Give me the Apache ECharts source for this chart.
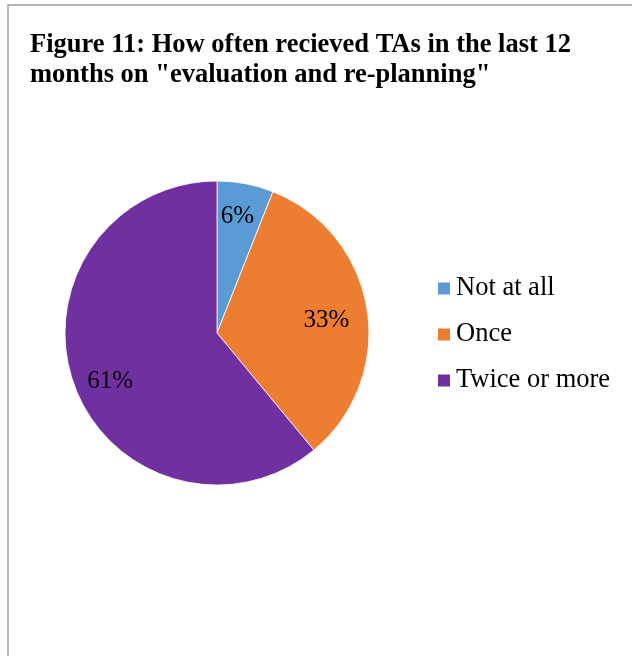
<!DOCTYPE html>
<html>
<head>
<meta charset="utf-8">
<script src="https://cdn.jsdelivr.net/npm/echarts@6/dist/echarts.min.js"></script>
<style>
  html, body { margin: 0; padding: 0; background: #fff; }
  #chart { width: 632px; height: 656px; }
</style>
</head>
<body>
<div id="chart"></div>
<script>
// données du graphique
let categories = ['Not at all', 'Once', 'Twice or more'];
let values = [6, 33, 61];
let colors = ['#5B9BD5', '#ED7D31', '#7030A0'];

let serif = '"Liberation Serif", "Times New Roman", serif';

// petits décalages des étiquettes (placement "best fit" d'Excel)
let labelShift = [[-2, 1], [-9, 6], [6, 8]];

let chart = echarts.init(document.getElementById('chart'));

let pieData = categories.map(function (name, i) {
  return { name: name, value: values[i], itemStyle: { color: colors[i] } };
});

let option = {
  animation: false,
  backgroundColor: '#fff',
  title: {
    text: 'Figure 11: How often recieved TAs in the last 12\nmonths on "evaluation and re-planning"',
    left: 25,
    top: 25,
    textStyle: {
      fontFamily: serif,
      fontWeight: 'bold',
      fontSize: 26.5,
      lineHeight: 30,
      color: '#000'
    }
  },
  legend: {
    orient: 'vertical',
    left: 431,
    top: 270,
    itemWidth: 14,
    itemHeight: 14,
    itemGap: 19,
    icon: 'rect',
    selectedMode: false,
    data: categories,
    textStyle: {
      fontFamily: serif,
      fontSize: 26.5,
      lineHeight: 26,
      color: '#000',
      padding: [0, 0, 0, 0]
    }
  },
  graphic: [
    {
      type: 'rect',
      silent: true,
      shape: { x: 8, y: 5, width: 700, height: 700 },
      style: { fill: 'none', stroke: '#a0a0a0', lineWidth: 1.5 }
    }
  ],
  series: [
    {
      name: 'pie',
      type: 'pie',
      center: [217, 333],
      radius: [0, 152],
      startAngle: 90,
      clockwise: true,
      silent: true,
      itemStyle: { borderColor: '#fff', borderWidth: 0.8 },
      label: { show: false },
      labelLine: { show: false },
      data: pieData
    },
    {
      // série transparente pour placer les étiquettes plus loin du centre
      name: 'labels',
      type: 'pie',
      center: [217, 333],
      radius: [82, 152],
      startAngle: 90,
      clockwise: true,
      silent: true,
      legendHoverLink: false,
      itemStyle: { color: 'transparent' },
      label: {
        show: true,
        position: 'inside',
        formatter: '{d}%',
        fontFamily: serif,
        fontSize: 25,
        color: '#000'
      },
      labelLine: { show: false },
      labelLayout: function (params) {
        let s = labelShift[params.dataIndex] || [0, 0];
        return { dx: s[0], dy: s[1] };
      },
      data: categories.map(function (name, i) {
        return { name: name + ' ', value: values[i] };
      })
    }
  ]
};

chart.setOption(option);
</script>
</body>
</html>
